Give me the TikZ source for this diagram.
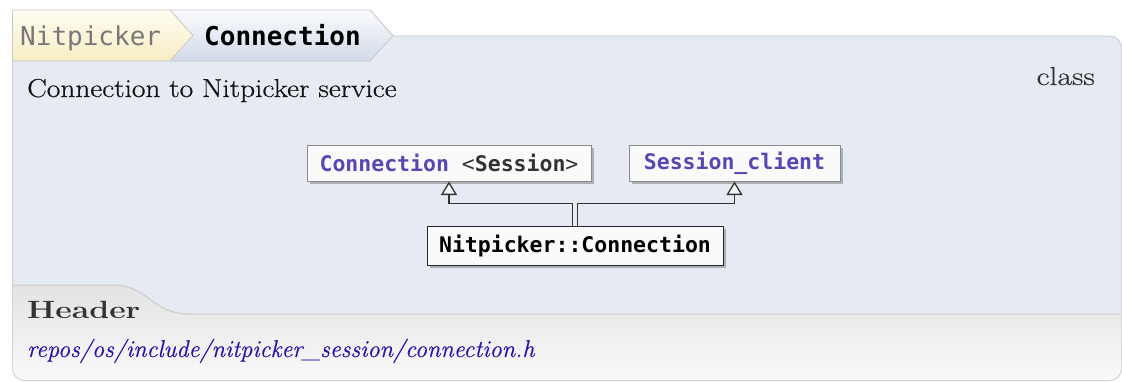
\documentclass[tikz,border=0pt]{standalone}
\usepackage{fontspec}
\newfontfamily\monofont{DejaVu Sans Mono}
\newfontfamily\descfont{Latin Modern Roman}[FakeStretch=1.13,FakeBold=0.6]
\newfontfamily\kindfont{Latin Modern Roman}[FakeStretch=1.22,FakeBold=0.6]
\newfontfamily\hdrfont{Latin Modern Roman}[FakeStretch=1.28]
\newfontfamily\pathfont{Latin Modern Roman}[FakeBold=0.4]
\usetikzlibrary{arrows.meta,shadows}
\definecolor{panelfill}{RGB}{230,234,242}
\definecolor{panelline}{RGB}{212,215,220}
\definecolor{purp}{RGB}{88,70,178}
\definecolor{linkblue}{RGB}{36,18,170}
\definecolor{darktext}{RGB}{51,51,51}
\definecolor{tabgray}{RGB}{120,120,120}
\tikzset{
  classbox/.style={draw=black!45, line width=1pt, fill=black!2, minimum height=36pt,
    inner sep=0pt, font=\monofont\fontsize{21.5}{25}\selectfont,
    drop shadow={shadow xshift=2.5pt, shadow yshift=-2.5pt, opacity=0.25, fill=black}},
  mainbox/.style={classbox, draw=black!85, minimum height=39pt},
  inh/.style={draw=black!80, line width=1.4pt, -{Triangle[width=16pt, length=13.5pt, line width=1.3pt, fill=black!3]}},
  tabline/.style={draw=black!22, line width=0.8pt},
}
\begin{document}
\begin{tikzpicture}[x=1pt,y=-1pt]
\useasboundingbox (0,0) rectangle (1122,381);
% panel
\path[fill=panelfill, draw=panelline, line width=1pt, rounded corners=12pt]
  (12.5,36) rectangle (1121.5,380.5);
% header section
\begin{scope}
\clip[rounded corners=12pt] (12.5,36) rectangle (1121.5,380.5);
\shade[top color=black!11, bottom color=black!2]
  (12,285) -- (112,285) .. controls (150,285) and (150,314) .. (190,314) -- (1123,314) -- (1123,382) -- (12,382) -- cycle;
\draw[black!20, line width=1pt]
  (12,285) -- (112,285) .. controls (150,285) and (150,314) .. (190,314) -- (1123,314);
\end{scope}
\draw[panelline, line width=1pt, rounded corners=12pt] (12.5,36) rectangle (1121.5,380.5);
% tabs
\shade[top color={rgb,255:red,255;green,253;blue,240}, bottom color={rgb,255:red,247;green,236;blue,196}]
  (12.5,10) -- (170,10) -- (193,35.5) -- (170,61) -- (12.5,61) -- cycle;
\shade[top color={rgb,255:red,250;green,251;blue,253}, bottom color={rgb,255:red,210;green,218;blue,232}]
  (170,10) -- (370,10) -- (393,35.5) -- (370,61) -- (170,61) -- (193,35.5) -- cycle;
\draw[tabline] (12.5,61) -- (12.5,10) -- (370,10) -- (393,35.5) -- (370,61) -- (12.5,61);
\draw[tabline] (170,10) -- (193,35.5) -- (170,61);
\node[anchor=base west, inner sep=0pt, text=tabgray, font=\monofont\fontsize{26}{30}\selectfont] (tab1) at (20,45) {Nitpicker};
\node[anchor=base west, inner sep=0pt, text=black, font=\monofont\bfseries\fontsize{26}{30}\selectfont] (tab2) at (204,45) {Connection};
% texts
\node[anchor=base west, inner sep=0pt, text=black!92, font=\descfont\fontsize{26}{30}\selectfont] (desc) at (27,97) {Connection to Nitpicker service};
\node[anchor=base east, inner sep=0pt, text=darktext, font=\kindfont\fontsize{26}{30}\selectfont] (kind) at (1095,85) {class};
\node[anchor=base west, inner sep=0pt, text=darktext, font=\hdrfont\bfseries\fontsize{25}{28}\selectfont] (hdr) at (27,318) {Header};
\node[anchor=base west, inner sep=0pt, text=linkblue, font=\pathfont\itshape\fontsize{24.3}{28}\selectfont] (path) at (27,357) {repos/os/include/nitpicker\_session/connection.h};
% class diagram
\node[classbox, minimum width=284pt] (n1) at (449,163) {\textcolor{purp}{\bfseries Connection}\textcolor{darktext}{\ <\textbf{Session}>}};
\node[classbox, minimum width=211pt] (n2) at (734.5,163) {\textcolor{purp}{\bfseries Session\_client}};
\node[mainbox, minimum width=296pt] (n3) at (575,245.5) {\textbf{Nitpicker::Connection}};
\draw[inh] ([xshift=-2.5pt]n3.north) -- ++(0,-22) -| (n1.south);
\draw[inh] ([xshift=2.5pt]n3.north) -- ++(0,-22) -| (n2.south);
\end{tikzpicture}
\end{document}
